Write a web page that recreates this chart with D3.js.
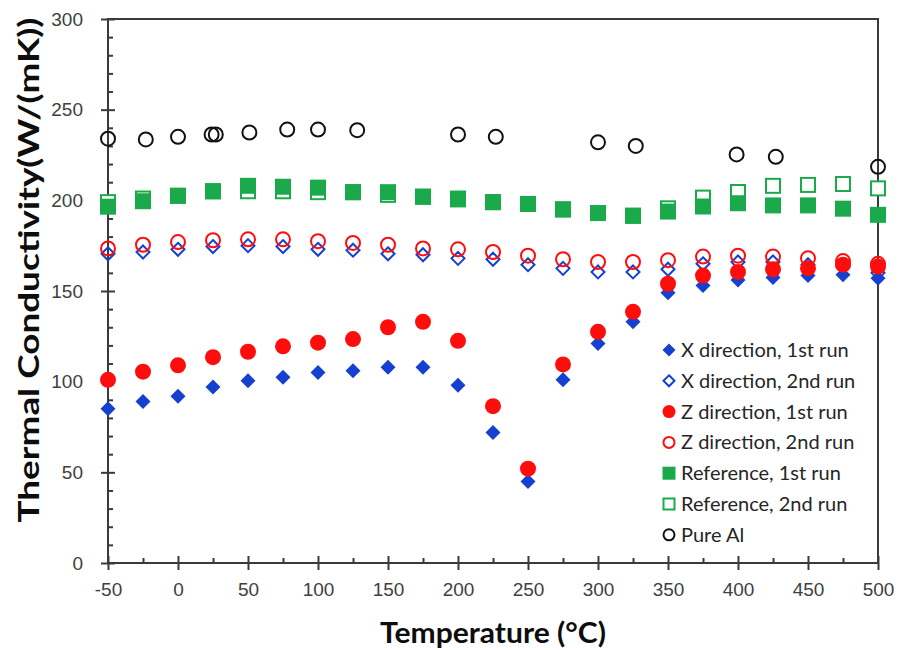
<!DOCTYPE html>
<html>
<head>
<meta charset="utf-8">
<script src="https://cdn.jsdelivr.net/npm/d3@7"></script>
<style>
  body { margin: 0; background: #fff; }
  svg { display: block; font-family: Lato, "Open Sans", sans-serif; }
</style>
</head>
<body>
<div id="chart"></div>
<script>
"use strict";
// temperatures (°C) for the composite / reference samples
const temps = [-50, -25, 0, 25, 50, 75, 100, 125, 150, 175, 200, 225, 250, 275, 300, 325, 350, 375, 400, 425, 450, 475, 500];
const xDir1 = [85, 89, 92, 97, 100.5, 102.5, 105, 106, 108, 108, 98, 72, 45, 101, 121, 133, 149, 153, 156, 157.5, 158.5, 159, 157];
const xDir2 = [170.5, 171.5, 173, 174.5, 175, 174.5, 173, 172.5, 170.5, 170, 168, 167.5, 164.5, 162.5, 160.5, 160.5, 162, 165, 166, 166, 164.5, 163.5, 160];
const zDir1 = [101, 105.5, 109, 113.5, 116.5, 119.5, 121.5, 123.5, 130, 133, 122.5, 86.5, 52, 109.5, 127.5, 138.5, 154, 158.5, 160.5, 162, 162.5, 164.5, 163.5];
const zDir2 = [173.5, 175.5, 177, 178, 178.5, 178.5, 177.5, 176.5, 175.5, 173.5, 173, 171.5, 169.5, 167.5, 166, 166, 167, 169, 169.5, 169, 168, 166.5, 165];
const ref1 = [196.5, 199.5, 202.5, 205, 208, 207.5, 207, 204.5, 204.5, 202, 200.5, 199, 198, 195, 193, 191.5, 193.8, 196.6, 198.4, 197.2, 197.2, 195.4, 192];
const ref2 = [199, 201, 202.5, 205, 205, 205, 204.5, 204.5, 203, 202, 201, 199, 198, 195, 193, 191.5, 195.6, 201.5, 204.6, 208, 208.5, 209, 206.6];
// pure Al was measured at slightly different temperatures
const alTemps = [-50, -23, 0, 24, 27, 51, 78, 100, 128, 200, 227, 300, 327, 399, 427, 500];
const alValues = [234, 233.6, 235, 236.3, 236.3, 237.4, 239, 239, 238.7, 236.3, 235, 232, 230, 225.3, 224, 218.5];

const xTicks = [-50, 0, 50, 100, 150, 200, 250, 300, 350, 400, 450, 500];
const xMinor = [-25, 25, 75, 125, 175, 225, 275, 325, 375, 425, 475];
const yTicks = [0, 50, 100, 150, 200, 250, 300];
const yMinor = [10, 20, 30, 40, 60, 70, 80, 90, 110, 120, 130, 140, 160, 170, 180, 190, 210, 220, 230, 240, 260, 270, 280, 290];

const blue = "#1540d0", red = "#ff0d0d", green = "#1aaa4c";

// drawing order: 2nd-run squares go under the 1st-run ones
const series = [
    {name: "X direction, 1st run", t: temps, v: xDir1, shape: "diamond", color: blue, filled: true},
    {name: "X direction, 2nd run", t: temps, v: xDir2, shape: "diamond", color: blue, filled: false},
    {name: "Z direction, 1st run", t: temps, v: zDir1, shape: "circle", color: red, filled: true},
    {name: "Z direction, 2nd run", t: temps, v: zDir2, shape: "circle", color: red, filled: false},
    {name: "Reference, 1st run", t: temps, v: ref1, shape: "square", color: green, filled: true},
    {name: "Reference, 2nd run", t: temps, v: ref2, shape: "square", color: green, filled: false},
    {name: "Pure Al", t: alTemps, v: alValues, shape: "circle", color: "#111", filled: false}
];
const drawOrder = [0, 1, 2, 3, 5, 4, 6];

const width = 900, height = 650;
const marginTop = 19, marginRight = 22, marginBottom = 87, marginLeft = 108;

const x = d3.scaleLinear().domain([-50, 500]).range([marginLeft, width - marginRight]);
const y = d3.scaleLinear().domain([0, 300]).range([height - marginBottom, marginTop]);

const svg = d3.select("#chart").append("svg")
    .attr("width", width)
    .attr("height", height)
    .attr("viewBox", [0, 0, width, height]);

const axisColor = "#3a3a3a";
const labelColor = "#404040";
const plainNum = d => String(d); // keep the hyphen in "-50"

function styleAxis(g) {
    g.select(".domain").remove();
    g.selectAll(".tick line").attr("stroke", axisColor).attr("stroke-width", 2);
    g.selectAll(".tick text").attr("fill", labelColor).style("font-size", "19px");
}

// y axis: labelled outer ticks, inner half of the major ticks, inner minor ticks
svg.append("g")
    .attr("transform", `translate(${marginLeft},0)`)
    .call(d3.axisLeft(y).tickValues(yTicks).tickSize(7).tickPadding(18).tickFormat(plainNum))
    .call(styleAxis);
svg.append("g")
    .attr("transform", `translate(${marginLeft},0)`)
    .call(d3.axisLeft(y).tickValues(yTicks).tickSize(-7).tickFormat(""))
    .call(styleAxis);
svg.append("g")
    .attr("transform", `translate(${marginLeft},0)`)
    .call(d3.axisLeft(y).tickValues(yMinor).tickSize(-5).tickFormat(""))
    .call(styleAxis);

// x axis
svg.append("g")
    .attr("transform", `translate(0,${height - marginBottom})`)
    .call(d3.axisBottom(x).tickValues(xTicks).tickSize(7).tickPadding(13).tickFormat(plainNum))
    .call(styleAxis);
svg.append("g")
    .attr("transform", `translate(0,${height - marginBottom})`)
    .call(d3.axisBottom(x).tickValues(xTicks).tickSize(-7).tickFormat(""))
    .call(styleAxis);
svg.append("g")
    .attr("transform", `translate(0,${height - marginBottom})`)
    .call(d3.axisBottom(x).tickValues(xMinor).tickSize(-5).tickFormat(""))
    .call(styleAxis);

// plot frame
svg.append("rect")
    .attr("x", x(-50))
    .attr("y", y(300))
    .attr("width", x(500) - x(-50))
    .attr("height", y(0) - y(300))
    .attr("fill", "none")
    .attr("stroke", axisColor)
    .attr("stroke-width", 2);

function drawMarker(g, shape, color, filled, size) {
    const fill = filled ? color : (shape === "square" ? "#fff" : "none");
    const sw = filled ? 0 : 2;
    if (shape === "circle") {
        g.append("circle").attr("r", size / 2 - sw / 2)
            .attr("fill", fill).attr("stroke", color).attr("stroke-width", sw);
    } else if (shape === "square") {
        const s = size - sw;
        g.append("rect").attr("x", -s / 2).attr("y", -s / 2).attr("width", s).attr("height", s)
            .attr("fill", fill).attr("stroke", color).attr("stroke-width", sw);
    } else {
        const d = size / 2 - sw / 2;
        g.append("path").attr("d", `M0,${-d}L${d},0L0,${d}L${-d},0Z`)
            .attr("fill", fill).attr("stroke", color).attr("stroke-width", sw);
    }
}

const markerSize = {diamond: 15, circle: 16, square: 16};

drawOrder.forEach(i => {
    const s = series[i];
    const pts = s.t.map((t, j) => [t, s.v[j]]);
    svg.append("g")
        .selectAll("g")
        .data(pts)
        .join("g")
        .attr("transform", d => `translate(${x(d[0])},${y(d[1])})`)
        .each(function() {
            drawMarker(d3.select(this), s.shape, s.color, s.filled, markerSize[s.shape]);
        });
});

// legend
const legend = svg.append("g")
    .selectAll("g")
    .data(series)
    .join("g")
    .attr("transform", (d, i) => `translate(669,${350 + i * 30.8})`);

legend.each(function(d) {
    drawMarker(d3.select(this), d.shape, d.color, d.filled, 13);
});

legend.append("text")
    .attr("x", 12)
    .attr("dy", "0.35em")
    .attr("fill", "#262626")
    .style("font-size", "20px")
    .text(d => d.name);

// axis titles
svg.append("text")
    .attr("x", (x(-50) + x(500)) / 2)
    .attr("y", 643)
    .attr("text-anchor", "middle")
    .attr("fill", "#0d0d0d")
    .attr("textLength", 226)
    .attr("lengthAdjust", "spacingAndGlyphs")
    .style("font-size", "28px")
    .style("font-weight", "bold")
    .text("Temperature (°C)");

svg.append("text")
    .attr("transform", `translate(39,${(y(0) + y(300)) / 2 - 21}) rotate(-90)`)
    .attr("text-anchor", "middle")
    .attr("fill", "#0d0d0d")
    .attr("textLength", 505)
    .attr("lengthAdjust", "spacingAndGlyphs")
    .style("font-size", "28px")
    .style("font-weight", "bold")
    .text("Thermal Conductivity(W/(mK))");
</script>
</body>
</html>
